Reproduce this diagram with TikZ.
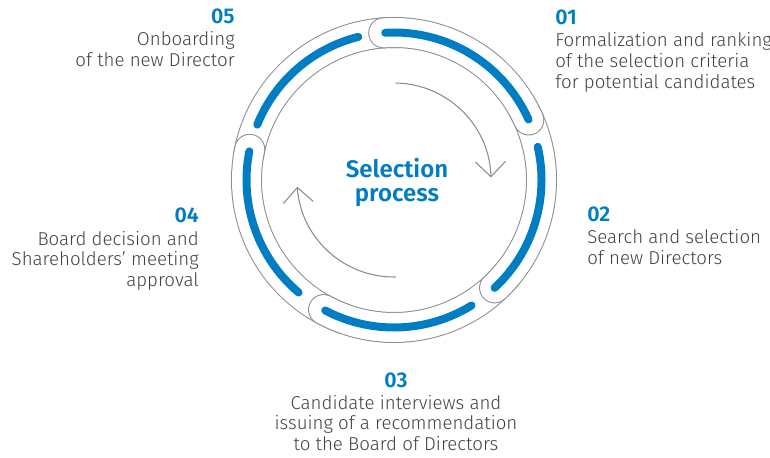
\documentclass[tikz,border=0pt]{standalone}
\usepackage{fontspec}
\setmainfont{Fira Sans}[UprightFont={* Light},BoldFont={* SemiBold}]
\usetikzlibrary{arrows.meta, positioning}

\definecolor{procblue}{RGB}{0,125,195}
\definecolor{ringgray}{RGB}{140,140,140}
\definecolor{txtgray}{RGB}{65,65,65}

\tikzset{
  numlabel/.style={text=procblue, font=\fontsize{16}{18}\selectfont\bfseries, inner sep=0pt},
  steptext/.style={text=txtgray, font=\fontsize{14}{15.5}\selectfont, inner sep=0pt},
  bandedge/.style={ringgray, line width=23.25pt, line cap=round},
  bandfill/.style={white, line width=21.75pt, line cap=round},
  bandblue/.style={procblue, line width=6pt, line cap=round},
  cycarrow/.style={ringgray, line width=0.8pt, -{Straight Barb[length=11.25pt, width=22.5pt]}},
}

% one piece of the ring: band from #1 to #2, blue from #3 to #4
\newcommand{\ringpiece}[4]{%
  \draw[bandedge] ([shift={(#1:147.5)}]c) arc[start angle=#1, end angle=#2, radius=147.5];
  \draw[bandfill] ([shift={(#1:147.5)}]c) arc[start angle=#1, end angle=#2, radius=147.5];
  \draw[bandblue] ([shift={(#3:147.5)}]c) arc[start angle=#3, end angle=#4, radius=147.5];
}

\begin{document}
\begin{tikzpicture}[x=0.75pt, y=0.75pt]
  \useasboundingbox (0,0) rectangle (770,457);
  \coordinate (c) at (394,277);

  % ring, drawn so that each piece lies on the one before
  \ringpiece{170}{88}{158}{104}
  \ringpiece{-110}{-192}{-130.3}{-191.2}
  \ringpiece{-40}{-118.5}{-58.3}{-117.8}
  \ringpiece{30}{-47}{13}{-47}
  \ringpiece{94}{24}{93.4}{24.2}

  % turning arrows inside
  \draw[cycarrow] ([shift={(89:97)}]c) arc[start angle=89, end angle=1.5, radius=97];
  \draw[cycarrow] ([shift={(-89:97)}]c) arc[start angle=-89, end angle=-176, radius=97];

  \node[text=procblue, font=\fontsize{18}{18}\selectfont\bfseries, align=center, anchor=base, inner sep=0pt] (title) at (397,255) {Selection\\process};

  % the base of a text block is its last line
  \node[numlabel, anchor=base west] (num01) at (555,432) {01};
  \node[steptext, align=left, below=47.5pt of num01.base west, anchor=base west] (txt01) {Formalization and ranking\\of the selection criteria\\for potential candidates};

  \node[numlabel, anchor=base west] (num02) at (587,235) {02};
  \node[steptext, align=left, below=32pt of num02.base west, anchor=base west] (txt02) {Search and selection\\of new Directors};

  \node[numlabel, anchor=base] (num03) at (396,70) {03};
  \node[steptext, align=center, below=47.5pt of num03.base, anchor=base] (txt03) {Candidate interviews and\\issuing of a recommendation\\to the Board of Directors};

  \node[numlabel, anchor=base east] (num04) at (199,234) {04};
  \node[steptext, align=right, below=47.5pt of num04.base east, anchor=base east] (txt04) {Board decision and\\Shareholders’ meeting\\approval};

  \node[numlabel, anchor=base east] (num05) at (235,433) {05};
  \node[steptext, align=right, below=32pt of num05.base east, anchor=base east] (txt05) {Onboarding\\of the new Director};
\end{tikzpicture}
\end{document}
